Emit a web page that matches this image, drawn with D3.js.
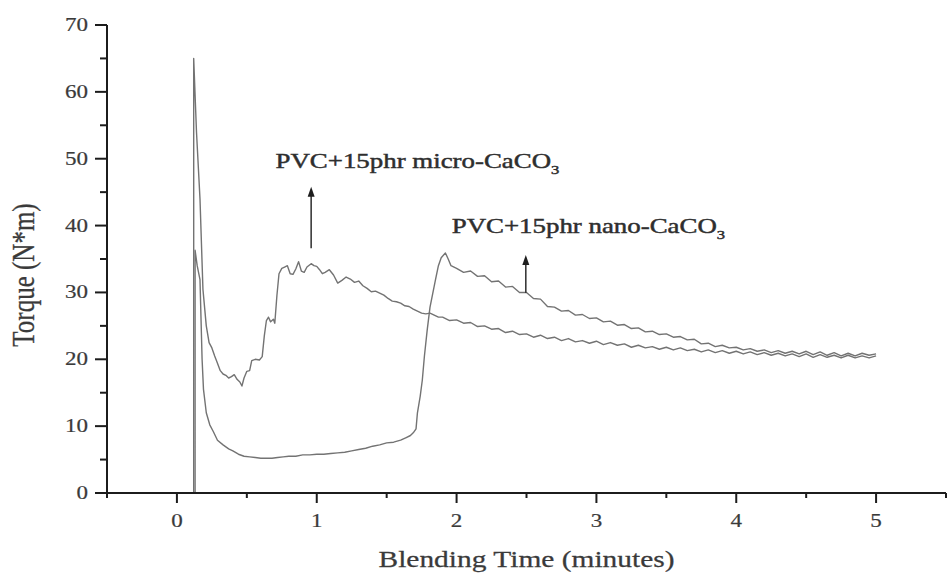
<!DOCTYPE html>
<html>
<head>
<meta charset="utf-8">
<script src="https://cdn.jsdelivr.net/npm/d3@7"></script>
<style>
  html, body { margin: 0; padding: 0; background: #fff; }
  svg { display: block; }
  text { font-family: "Liberation Serif", "Times New Roman", serif; }
</style>
</head>
<body>
<svg id="chart" width="949" height="574"></svg>
<script>
// Torque rheometer curves: PVC with 15 phr micro- and nano-CaCO3
const microTime = [0.12,0.12,0.14,0.165,0.186,0.21,0.23,0.25,0.27,0.29,0.31,0.33,0.35,0.37,0.39,0.41,0.43,0.45,0.465,0.48,0.50,0.52,0.535,0.56,0.59,0.61,0.625,0.64,0.655,0.67,0.69,0.70,0.715,0.73,0.75,0.77,0.79,0.81,0.83,0.85,0.87,0.89,0.91,0.93,0.96,0.98,1.00,1.02,1.04,1.06,1.09,1.12,1.15,1.18,1.21,1.24,1.27,1.30,1.33,1.36,1.39,1.42,1.45,1.48,1.51,1.54,1.57,1.60,1.63,1.66,1.69,1.72,1.75,1.78,1.81,1.84,1.87,1.90,1.95,2.00,2.05,2.10,2.15,2.20,2.25,2.30,2.35,2.40,2.45,2.50,2.55,2.60,2.65,2.70,2.75,2.80,2.85,2.90,2.95,3.00,3.05,3.10,3.15,3.20,3.25,3.30,3.35,3.40,3.45,3.50,3.55,3.60,3.65,3.70,3.75,3.80,3.85,3.90,3.95,4.00,4.05,4.10,4.15,4.20,4.25,4.30,4.35,4.40,4.45,4.50,4.55,4.60,4.65,4.70,4.75,4.80,4.85,4.90,4.95,5.00];
const microTorque = [0,65,54,44,30.5,25,22.5,21.7,20.5,19.4,18.3,17.8,17.6,17.2,17.4,17.7,17.0,16.6,16.0,17.2,18.2,18.3,19.8,20.0,19.9,20.4,23.5,25.8,26.3,25.6,26.0,25.4,29.5,32.8,33.6,33.8,34.0,32.8,32.7,33.5,34.6,33.2,33.0,33.8,34.3,34.0,33.9,33.4,32.8,33.0,33.4,32.6,31.4,31.8,32.3,32.0,31.5,31.7,31.0,30.6,30.1,30.2,29.9,29.6,29.1,28.7,28.6,28.4,28.0,27.9,27.5,27.2,26.9,26.8,26.9,26.6,26.3,26.3,25.8,25.9,25.4,25.5,24.9,25.0,24.5,24.6,24.0,24.2,23.7,23.8,23.3,23.6,23.1,23.3,22.8,23.1,22.6,22.8,22.4,22.7,22.2,22.5,22.1,22.3,21.8,22.1,21.7,21.9,21.5,21.8,21.4,21.7,21.3,21.5,21.1,21.4,21.0,21.3,20.9,21.2,20.8,21.1,20.7,21.0,20.6,20.9,20.5,20.8,20.4,20.8,20.3,20.7,20.3,20.6,20.2,20.6,20.2,20.5,20.2,20.5];

const nanoTime = [0.13,0.13,0.145,0.165,0.18,0.19,0.21,0.235,0.26,0.29,0.33,0.37,0.40,0.44,0.48,0.52,0.56,0.60,0.64,0.68,0.72,0.76,0.80,0.85,0.90,0.95,1.00,1.05,1.10,1.15,1.20,1.25,1.30,1.35,1.40,1.45,1.50,1.55,1.60,1.64,1.67,1.69,1.71,1.72,1.74,1.755,1.77,1.79,1.81,1.83,1.85,1.87,1.89,1.92,1.94,1.96,2.00,2.05,2.10,2.15,2.20,2.25,2.30,2.35,2.40,2.45,2.50,2.55,2.60,2.65,2.70,2.75,2.80,2.85,2.90,2.95,3.00,3.05,3.10,3.15,3.20,3.25,3.30,3.35,3.40,3.45,3.50,3.55,3.60,3.65,3.70,3.75,3.80,3.85,3.90,3.95,4.00,4.05,4.10,4.15,4.20,4.25,4.30,4.35,4.40,4.45,4.50,4.55,4.60,4.65,4.70,4.75,4.80,4.85,4.90,4.95,5.00];
const nanoTorque = [0,36.3,34,31.9,20,15.5,12.0,10.2,9.2,7.9,7.2,6.6,6.3,5.8,5.5,5.4,5.3,5.2,5.2,5.2,5.3,5.4,5.5,5.5,5.7,5.7,5.8,5.8,5.9,6.0,6.1,6.3,6.5,6.7,7.0,7.2,7.5,7.6,7.9,8.3,8.6,9.0,9.6,12.0,14.5,16.9,20.5,24.4,27.8,29.9,32.0,34.0,35.2,35.9,35.0,34.0,33.6,33.0,33.2,32.4,32.5,31.6,31.7,30.8,30.9,30.0,30.0,29.1,29.0,27.9,27.8,27.2,27.3,26.6,26.7,26.1,26.2,25.6,25.7,25.1,25.2,24.6,24.7,24.1,24.2,23.7,23.8,23.3,23.4,22.9,23.0,22.3,22.4,21.9,22.1,21.7,21.8,21.4,21.6,21.2,21.4,21.0,21.3,20.9,21.2,20.8,21.2,20.7,21.1,20.6,21.0,20.5,20.9,20.5,20.9,20.6,20.8];

const xMajorTicks = [0, 1, 2, 3, 4, 5];
const xMinorTicks = [-0.5, 0.5, 1.5, 2.5, 3.5, 4.5, 5.5];
const yMajorTicks = [0, 10, 20, 30, 40, 50, 60, 70];
const yMinorTicks = [5, 15, 25, 35, 45, 55, 65];

const xTitle = "Blending Time (minutes)";
const yTitle = "Torque (N*m)";
const microLabel = "PVC+15phr micro-CaCO";
const nanoLabel = "PVC+15phr nano-CaCO";

const svg = d3.select("#chart");
const x = d3.scaleLinear().domain([-0.5, 5.5]).range([107, 946]);
const y = d3.scaleLinear().domain([0, 70]).range([493, 25]);

const stretch = 1.28;      // glyphs are set wide
const axisColor = "#1c1c1c";
const textColor = "#3a3a3a";
const curveColor = "#737373";

// curves
const line = d3.line().x(d => x(d[0])).y(d => y(d[1]));
const microData = d3.zip(microTime, microTorque);
const nanoData = d3.zip(nanoTime, nanoTorque);

[nanoData, microData].forEach(data => {
  svg.append("path").datum(data)
    .attr("d", line).attr("fill", "none")
    .attr("stroke", curveColor).attr("stroke-width", 1.4)
    .attr("stroke-linejoin", "round");
});

// axes
const ax = svg.append("g").attr("stroke", axisColor).attr("stroke-width", 2);
ax.append("line").attr("x1", x(-0.5)).attr("x2", x(-0.5)).attr("y1", y(70)).attr("y2", y(0) + 1);
ax.append("line").attr("x1", x(-0.5) - 1).attr("x2", x(5.5)).attr("y1", y(0)).attr("y2", y(0));

ax.selectAll(".ymaj").data(yMajorTicks).enter().append("line")
  .attr("x1", x(-0.5) - 12).attr("x2", x(-0.5)).attr("y1", d => y(d)).attr("y2", d => y(d));
ax.selectAll(".ymin").data(yMinorTicks).enter().append("line")
  .attr("x1", x(-0.5) - 7).attr("x2", x(-0.5)).attr("y1", d => y(d)).attr("y2", d => y(d));
ax.selectAll(".xmaj").data(xMajorTicks).enter().append("line")
  .attr("x1", d => x(d)).attr("x2", d => x(d)).attr("y1", y(0)).attr("y2", y(0) + 10);
ax.selectAll(".xmin").data(xMinorTicks).enter().append("line")
  .attr("x1", d => x(d)).attr("x2", d => x(d)).attr("y1", y(0)).attr("y2", y(0) + 5);

// tick labels
svg.selectAll(".ylab").data(yMajorTicks).enter().append("text")
  .attr("transform", d => `translate(${x(-0.5) - 19},${y(d) + 6}) scale(${stretch},1)`)
  .attr("text-anchor", "end").attr("font-size", 18).attr("fill", textColor)
  .attr("stroke", textColor).attr("stroke-width", 0.2)
  .text(d => d);
svg.selectAll(".xlab").data(xMajorTicks).enter().append("text")
  .attr("transform", d => `translate(${x(d)},${y(0) + 34}) scale(${stretch},1)`)
  .attr("text-anchor", "middle").attr("font-size", 18).attr("fill", textColor)
  .attr("stroke", textColor).attr("stroke-width", 0.2)
  .text(d => d);

// axis titles
svg.append("text")
  .attr("transform", `translate(${(x(-0.5) + x(5.5)) / 2},567) scale(${stretch},1)`)
  .attr("text-anchor", "middle").attr("font-size", 23).attr("fill", textColor)
  .attr("stroke", textColor).attr("stroke-width", 0.25)
  .text(xTitle);
svg.append("text")
  .attr("transform", `translate(34,275) rotate(-90) scale(1,${stretch})`)
  .attr("text-anchor", "middle").attr("font-size", 25).attr("fill", textColor)
  .attr("stroke", textColor).attr("stroke-width", 0.25)
  .text(yTitle);

// annotations with arrows
function label(t, v, str) {
  const g = svg.append("text")
    .attr("transform", `translate(${x(t)},${y(v)}) scale(${stretch},1)`)
    .attr("font-size", 21).attr("fill", "#2e2e2e")
    .attr("stroke", "#2e2e2e").attr("stroke-width", 0.45);
  g.append("tspan").text(str);
  g.append("tspan").attr("font-size", 13).attr("dy", 6).text("3");
}
function arrow(t, v0, v1) {
  const xp = x(t);
  svg.append("line").attr("x1", xp).attr("x2", xp)
    .attr("y1", y(v0)).attr("y2", y(v1) + 8)
    .attr("stroke", "#3a3a3a").attr("stroke-width", 1.6);
  svg.append("path")
    .attr("d", `M${xp},${y(v1)} L${xp - 3.5},${y(v1) + 10} L${xp + 3.5},${y(v1) + 10} Z`)
    .attr("fill", "#1e1e1e");
}
label(0.705, 48.6, microLabel);
arrow(0.96, 36.6, 45.8);
label(1.965, 38.9, nanoLabel);
arrow(2.495, 29.9, 35.6);
</script>
</body>
</html>
